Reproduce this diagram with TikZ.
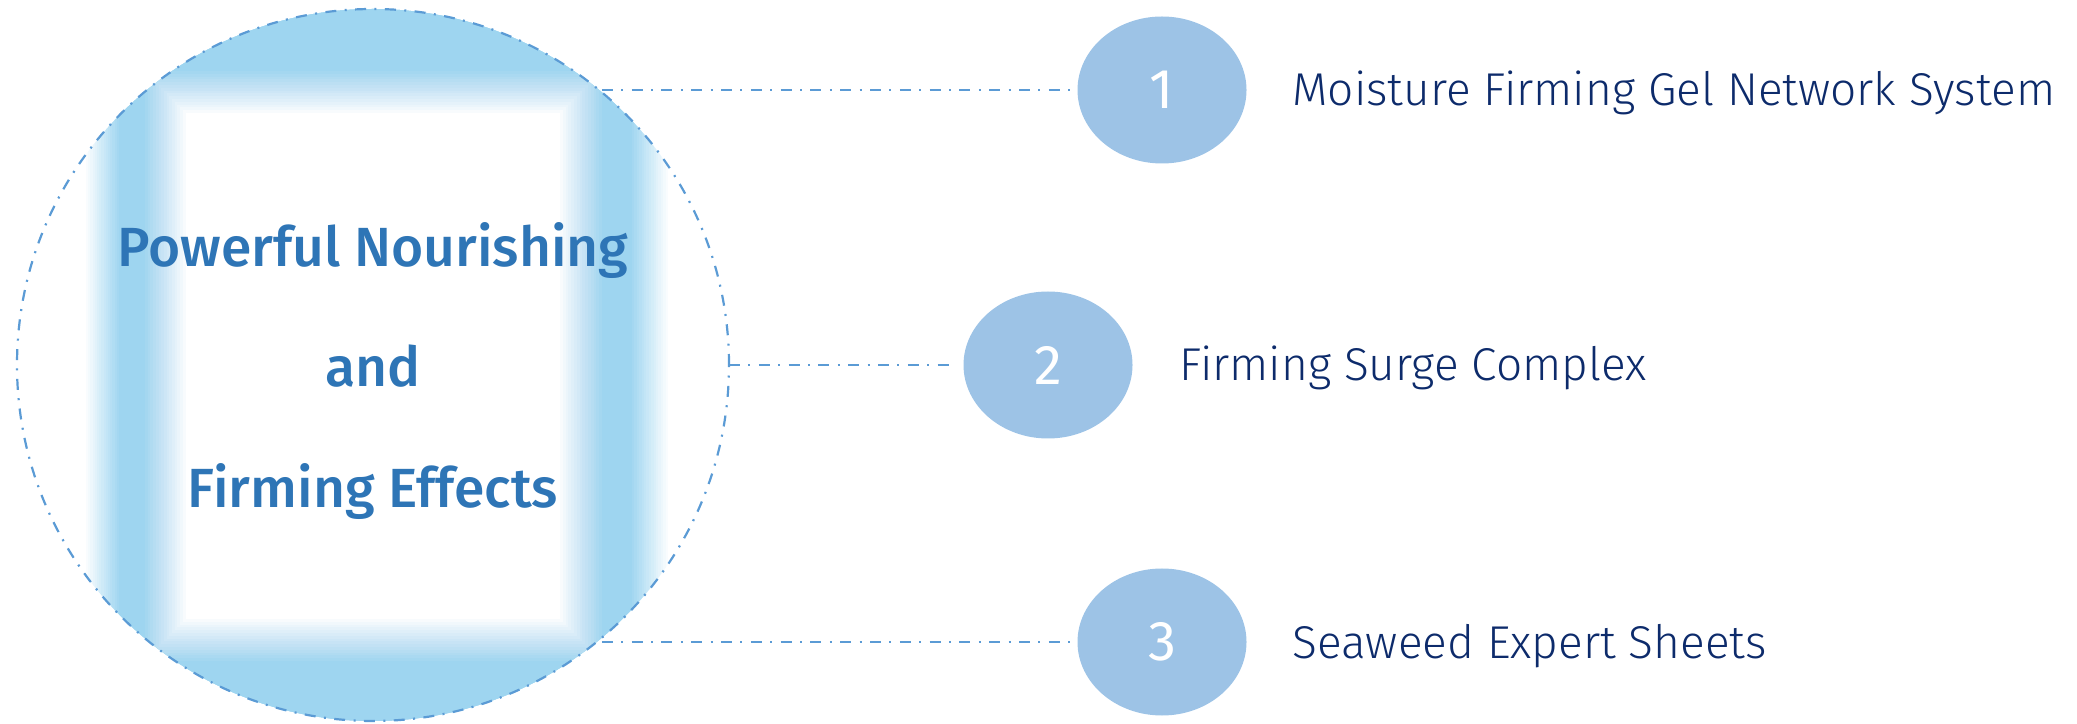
\documentclass[tikz,border=0pt]{standalone}
\usepackage{fontspec}
\setmainfont{Fira Sans}
\newfontfamily\lightfont{Fira Sans Light}
\newfontfamily\mediumfont{Fira Sans Medium}
\usetikzlibrary{shapes.geometric,positioning}
\definecolor{linkblue}{HTML}{5B9BD5}
\definecolor{skyblue}{HTML}{9ED5F0}
\definecolor{dotblue}{HTML}{9DC3E6}
\definecolor{headblue}{HTML}{2E75B6}
\definecolor{navy}{HTML}{0D2B6B}
\begin{document}
\begin{tikzpicture}[x=0.5pt,y=0.5pt,inner sep=0pt,outer sep=0pt,
link/.style={draw=linkblue,line width=1.1pt,dash pattern=on 5.5pt off 4.2pt on 1pt off 4.2pt},
numdot/.style={ellipse,fill=dotblue,minimum width=84.5pt,minimum height=73.5pt,text=white,font=\fontsize{28}{28}\selectfont},
itemtext/.style={text=navy,text height=16pt,text depth=0pt,font=\lightfont\fontsize{23}{23}\selectfont},
headtext/.style={anchor=base,text=headblue,font=\mediumfont\fontsize{27.6}{27.6}\selectfont}]
\useasboundingbox (0,0) rectangle (2077,723);
\begin{scope}
\clip (373,358) circle (356);
\foreach \i [evaluate=\i as \op using 1/(16-\i)] in {0,...,15}
  \fill[skyblue,fill opacity=\op] (86+2.2*\i,-10) rectangle (668-2.4*\i,740);
\foreach \i [evaluate=\i as \op using 1/(16-\i)] in {0,...,15}
  \fill[white,fill opacity=\op] (145+2.7*\i,62+2.8*\i) rectangle (602-2.8*\i,652-2.8*\i);
\end{scope}
\draw (373,358) node[circle,minimum size=356pt,link] (big) {};
\draw (373,456) node[headtext] (head1) {Powerful Nourishing};
\draw (373,336) node[headtext] (head2) {and};
\draw (373,215) node[headtext] (head3) {Firming Effects};
\draw (1162,633) node[numdot] (n1) {1};
\draw (1048,358) node[numdot] (n2) {2};
\draw (1162,81) node[numdot] (n3) {3};
\node[itemtext,right=23pt of n1] (item1) {Moisture Firming Gel Network System};
\node[itemtext,right=23.5pt of n2] (item2) {Firming Surge Complex};
\node[itemtext,right=23pt of n3] (item3) {Seaweed Expert Sheets};
\draw[link,shorten >=3.5pt] (n1.west -| big.50) -- (n1.west);
\draw[link,shorten >=3.5pt] (big.east) -- (n2.west);
\draw[link,shorten >=3.5pt] (n3.west -| big.-50) -- (n3.west);
\end{tikzpicture}
\end{document}
